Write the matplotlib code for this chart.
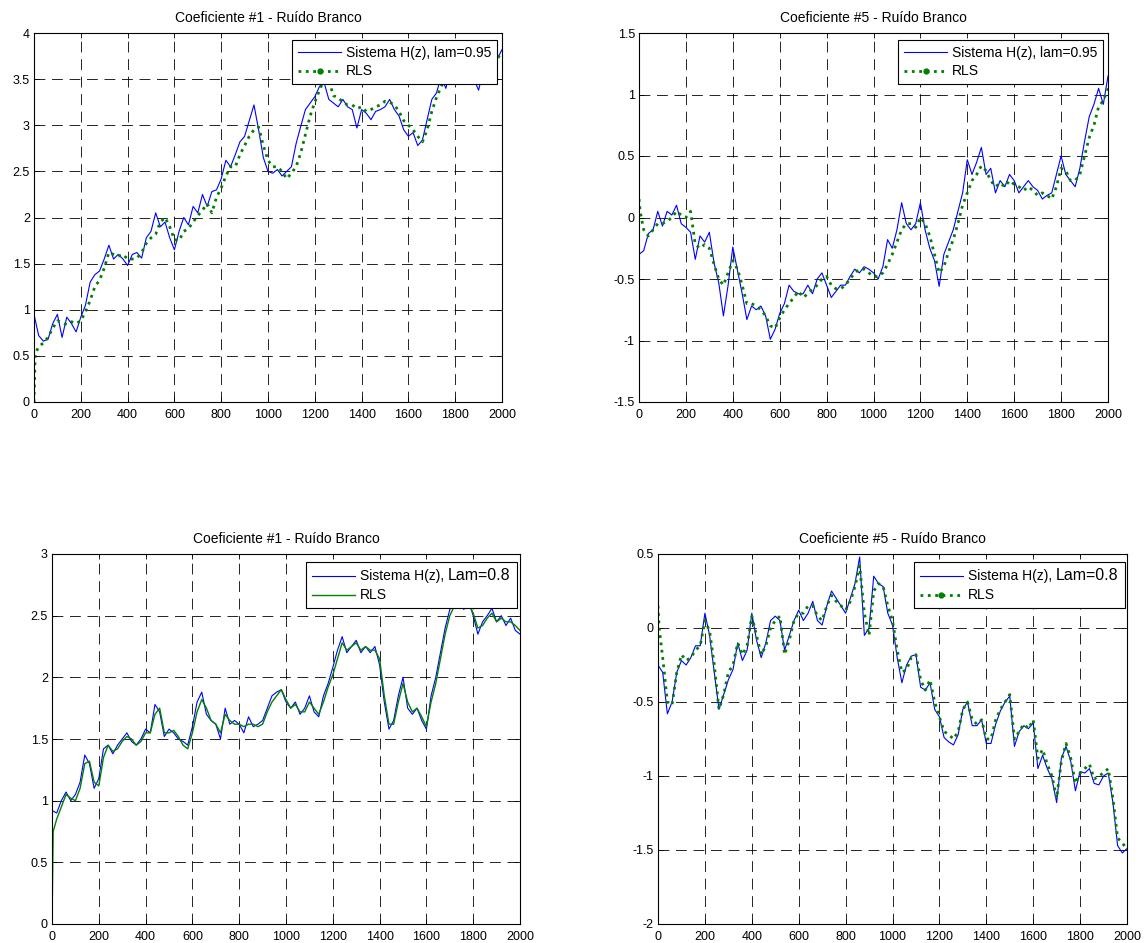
import numpy as np
import matplotlib
matplotlib.use('Agg')
import matplotlib.pyplot as plt
from matplotlib.lines import Line2D
from matplotlib.offsetbox import AnchoredOffsetbox, DrawingArea, HPacker, VPacker, TextArea

plt.rcParams['font.family'] = ['Liberation Sans', 'DejaVu Sans']
plt.rcParams['axes.unicode_minus'] = False

# sample index of each stored value (system every 20 samples, rls also keeps its start-up transient)
n_sys = np.arange(0, 2001, 20)
n_rls = np.concatenate(([0, 5], np.arange(20, 2001, 20)))

# coefficient #1, lam=0.95
c1_sys_095 = [0.95, 0.72, 0.66, 0.68, 0.85, 0.95, 0.70, 0.92, 0.85, 0.76,
              0.92, 1.05, 1.30, 1.38, 1.42, 1.55, 1.70, 1.55, 1.60, 1.55,
              1.48, 1.60, 1.62, 1.56, 1.78, 1.85, 2.05, 1.90, 1.95, 1.78,
              1.65, 1.85, 2.00, 1.92, 2.12, 2.05, 2.25, 2.12, 2.28, 2.30,
              2.42, 2.62, 2.55, 2.68, 2.82, 2.88, 3.05, 3.22, 2.95, 2.65,
              2.50, 2.48, 2.52, 2.45, 2.50, 2.55, 2.80, 2.99, 3.17, 3.24,
              3.31, 3.42, 3.46, 3.28, 3.24, 3.20, 3.28, 3.20, 3.17, 2.97,
              3.17, 3.13, 3.06, 3.15, 3.17, 3.20, 3.28, 3.17, 3.10, 2.95,
              2.88, 2.92, 2.78, 2.84, 3.06, 3.28, 3.35, 3.53, 3.40, 3.60,
              3.62, 3.58, 3.65, 3.60, 3.50, 3.38, 3.60, 3.65, 3.70, 3.72,
              3.82]
c1_rls_095 = [0.00, 0.52,
              0.60, 0.64, 0.70, 0.80, 0.88, 0.86, 0.84, 0.87, 0.85, 0.88,
              0.98, 1.10, 1.25, 1.32, 1.45, 1.62, 1.60, 1.58, 1.60, 1.55,
              1.55, 1.56, 1.62, 1.72, 1.78, 1.82, 1.95, 2.00, 1.90, 1.76,
              1.75, 1.85, 1.88, 1.95, 2.02, 2.08, 2.15, 2.05, 2.22, 2.32,
              2.45, 2.55, 2.55, 2.68, 2.78, 2.88, 2.95, 2.98, 2.78, 2.62,
              2.55, 2.55, 2.50, 2.42, 2.48, 2.55, 2.70, 2.90, 3.10, 3.25,
              3.38, 3.50, 3.48, 3.32, 3.30, 3.25, 3.22, 3.22, 3.18, 3.20,
              3.15, 3.17, 3.20, 3.22, 3.26, 3.25, 3.22, 3.15, 3.05, 3.00,
              2.95, 2.88, 2.82, 2.95, 3.15, 3.30, 3.42, 3.52, 3.55, 3.58,
              3.60, 3.62, 3.60, 3.58, 3.55, 3.55, 3.60, 3.65, 3.72, 3.80]

# coefficient #5, lam=0.95
c5_sys_095 = [-0.30, -0.27, -0.13, -0.10, 0.05, -0.07, 0.05, 0.02, 0.10, -0.05,
              -0.08, -0.12, -0.34, -0.15, -0.20, -0.12, -0.37, -0.53, -0.80, -0.55,
              -0.24, -0.43, -0.62, -0.83, -0.72, -0.75, -0.72, -0.80, -0.99, -0.91,
              -0.78, -0.70, -0.55, -0.60, -0.62, -0.62, -0.55, -0.62, -0.50, -0.45,
              -0.55, -0.65, -0.60, -0.55, -0.55, -0.48, -0.42, -0.45, -0.40, -0.42,
              -0.45, -0.50, -0.40, -0.18, -0.25, -0.10, 0.12, -0.05, -0.10, -0.05,
              0.12, -0.10, -0.25, -0.35, -0.56, -0.30, -0.20, -0.10, 0.05, 0.20,
              0.47, 0.35, 0.45, 0.57, 0.35, 0.40, 0.20, 0.30, 0.25, 0.35,
              0.30, 0.20, 0.25, 0.30, 0.25, 0.22, 0.15, 0.18, 0.20, 0.35,
              0.50, 0.35, 0.30, 0.25, 0.40, 0.62, 0.82, 0.92, 1.05, 0.92,
              1.15]
c5_rls_095 = [0.15, 0.05,
              -0.10, -0.15, -0.10, -0.05, -0.05, -0.03, 0.00, 0.05, 0.02, 0.00,
              0.05, -0.22, -0.25, -0.22, -0.25, -0.38, -0.50, -0.55, -0.45, -0.35,
              -0.42, -0.55, -0.70, -0.70, -0.72, -0.75, -0.80, -0.88, -0.90, -0.82,
              -0.75, -0.70, -0.65, -0.60, -0.65, -0.62, -0.58, -0.55, -0.50, -0.48,
              -0.55, -0.58, -0.58, -0.55, -0.50, -0.45, -0.42, -0.42, -0.45, -0.48,
              -0.48, -0.45, -0.38, -0.30, -0.20, -0.10, -0.05, -0.05, -0.08, 0.00,
              -0.05, -0.15, -0.30, -0.45, -0.40, -0.28, -0.18, -0.05, 0.10, 0.20,
              0.30, 0.35, 0.42, 0.38, 0.30, 0.25, 0.28, 0.25, 0.30, 0.27,
              0.25, 0.22, 0.25, 0.22, 0.18, 0.20, 0.18, 0.15, 0.25, 0.40,
              0.38, 0.30, 0.30, 0.35, 0.50, 0.65, 0.75, 0.90, 0.95, 1.05]

# coefficient #1, lam=0.8
c1_sys_08 = [0.92, 0.90, 1.00, 1.07, 1.00, 1.05, 1.15, 1.37, 1.30, 1.10,
             1.18, 1.42, 1.45, 1.38, 1.45, 1.50, 1.55, 1.48, 1.45, 1.50,
             1.58, 1.55, 1.78, 1.72, 1.52, 1.58, 1.55, 1.50, 1.48, 1.45,
             1.60, 1.80, 1.88, 1.70, 1.65, 1.62, 1.50, 1.75, 1.62, 1.65,
             1.62, 1.55, 1.68, 1.60, 1.62, 1.65, 1.75, 1.85, 1.88, 1.90,
             1.80, 1.75, 1.80, 1.70, 1.75, 1.85, 1.72, 1.68, 1.85, 1.95,
             2.08, 2.22, 2.33, 2.20, 2.25, 2.30, 2.20, 2.25, 2.20, 2.25,
             2.10, 1.80, 1.58, 1.65, 1.85, 2.00, 1.75, 1.70, 1.75, 1.65,
             1.58, 1.85, 2.00, 2.20, 2.40, 2.55, 2.60, 2.62, 2.55, 2.62,
             2.50, 2.35, 2.45, 2.50, 2.56, 2.45, 2.50, 2.42, 2.48, 2.38,
             2.35]
c1_rls_08 = [0.00, 0.75,
             0.85, 0.95, 1.05, 1.02, 1.00, 1.10, 1.30, 1.32, 1.15, 1.12,
             1.35, 1.45, 1.40, 1.42, 1.48, 1.52, 1.50, 1.45, 1.48, 1.55,
             1.55, 1.70, 1.75, 1.55, 1.55, 1.57, 1.52, 1.45, 1.42, 1.55,
             1.72, 1.82, 1.75, 1.65, 1.62, 1.55, 1.70, 1.65, 1.62, 1.62,
             1.60, 1.62, 1.62, 1.60, 1.62, 1.72, 1.80, 1.85, 1.90, 1.82,
             1.75, 1.78, 1.72, 1.72, 1.80, 1.75, 1.70, 1.80, 1.92, 2.02,
             2.15, 2.28, 2.22, 2.25, 2.28, 2.22, 2.25, 2.22, 2.22, 2.15,
             1.85, 1.62, 1.62, 1.80, 1.95, 1.80, 1.72, 1.75, 1.68, 1.60,
             1.80, 1.95, 2.15, 2.35, 2.50, 2.58, 2.60, 2.58, 2.60, 2.52,
             2.40, 2.42, 2.48, 2.52, 2.45, 2.48, 2.45, 2.45, 2.42, 2.38]

# coefficient #5, lam=0.8
c5_sys_08 = [-0.25, -0.30, -0.58, -0.50, -0.30, -0.22, -0.25, -0.20, -0.12, -0.12,
             0.10, -0.05, -0.30, -0.55, -0.45, -0.35, -0.28, -0.10, -0.22, -0.15,
             0.10, -0.08, -0.20, -0.10, 0.05, 0.08, 0.05, -0.15, -0.05, 0.05,
             0.12, 0.05, 0.10, 0.18, 0.05, 0.02, 0.15, 0.25, 0.20, 0.15,
             0.10, 0.20, 0.30, 0.48, -0.05, 0.00, 0.35, 0.30, 0.28, 0.10,
             0.02, -0.20, -0.37, -0.25, -0.19, -0.18, -0.40, -0.42, -0.37, -0.55,
             -0.60, -0.74, -0.77, -0.79, -0.72, -0.55, -0.50, -0.66, -0.66, -0.62,
             -0.78, -0.78, -0.65, -0.56, -0.50, -0.46, -0.80, -0.70, -0.66, -0.68,
             -0.64, -0.95, -0.86, -0.95, -1.02, -1.18, -0.88, -0.80, -0.90, -1.10,
             -0.97, -0.98, -0.95, -1.05, -1.06, -1.00, -0.98, -1.18, -1.47, -1.52,
             -1.49]
c5_rls_08 = [0.15, 0.00,
             -0.20, -0.50, -0.52, -0.30, -0.18, -0.22, -0.20, -0.15, -0.12, 0.05,
             -0.02, -0.25, -0.55, -0.45, -0.30, -0.25, -0.10, -0.18, -0.12, 0.08,
             -0.05, -0.18, -0.12, 0.00, 0.05, 0.08, -0.18, -0.08, 0.05, 0.10,
             0.10, 0.15, 0.15, 0.08, 0.05, 0.15, 0.22, 0.18, 0.15, 0.12,
             0.18, 0.28, 0.42, 0.10, -0.05, 0.25, 0.30, 0.28, 0.15, 0.05,
             -0.15, -0.30, -0.28, -0.20, -0.18, -0.35, -0.42, -0.35, -0.50, -0.60,
             -0.70, -0.72, -0.75, -0.70, -0.55, -0.50, -0.62, -0.65, -0.62, -0.75,
             -0.75, -0.62, -0.55, -0.50, -0.45, -0.75, -0.70, -0.65, -0.68, -0.62,
             -0.88, -0.82, -0.92, -1.00, -1.15, -0.90, -0.78, -0.88, -1.05, -0.98,
             -0.95, -0.92, -1.02, -1.00, -0.98, -0.95, -1.15, -1.42, -1.45, -1.50]

titles = ['Coeficiente #1 - Ruído Branco', 'Coeficiente #5 - Ruído Branco',
          'Coeficiente #1 - Ruído Branco', 'Coeficiente #5 - Ruído Branco']
x_ticks = [0, 200, 400, 600, 800, 1000, 1200, 1400, 1600, 1800, 2000]
y_ticks_c1_095 = ['0', '0.5', '1', '1.5', '2', '2.5', '3', '3.5', '4']
y_ticks_c5_095 = ['-1.5', '-1', '-0.5', '0', '0.5', '1', '1.5']
y_ticks_c1_08 = ['0', '0.5', '1', '1.5', '2', '2.5', '3']
y_ticks_c5_08 = ['-2', '-1.5', '-1', '-0.5', '0', '0.5']

W, H = 1146, 943
BLUE = (0, 0, 1)
GREEN = (0, 0.5, 0)

fig = plt.figure(figsize=(W / 100, H / 100), dpi=100)


def make_axes(x0, y0, x1, y1):
    # pixel box (left, top, right, bottom) -> figure fraction
    return fig.add_axes([x0 / W, (H - y1) / H, (x1 - x0) / W, (y1 - y0) / H])


def style_axes(ax, title, yt):
    yv = [float(s) for s in yt]
    ax.set_xlim(0, 2000)
    ax.set_ylim(yv[0], yv[-1])
    ax.set_xticks(x_ticks)
    ax.set_xticklabels([str(t) for t in x_ticks])
    ax.set_yticks(yv)
    ax.set_yticklabels(yt)
    ax.tick_params(direction='in', length=3.5, width=0.6, top=True, right=True,
                   labelsize=9)
    ax.tick_params(axis='x', pad=5)
    ax.tick_params(axis='y', pad=3)
    ax.grid(True, color='k', linewidth=0.6, linestyle=(0, (13, 8)))
    for s in ax.spines.values():
        s.set_linewidth(0.8)
    ax.set_title(title, fontsize=10, pad=8)


def add_legend(ax, lab, anchor):
    h_sys = Line2D([], [], color=BLUE, lw=0.8)
    h_rls = Line2D([], [], color=GREEN, lw=2.0, linestyle=':', marker='.', markersize=7)
    leg = ax.legend([h_sys, h_rls], [lab, 'RLS'], loc='upper right', bbox_to_anchor=anchor,
                    borderaxespad=0, fontsize=10, numpoints=1, handlelength=3.1,
                    handletextpad=0.35, labelspacing=0.35, borderpad=0.4,
                    fancybox=False, framealpha=1, edgecolor='k')
    leg.get_frame().set_linewidth(0.8)


def handle_box(style):
    # little line sample for the hand built legend, 31 x 10 pt
    da = DrawingArea(31, 10, 0, 0)
    if style == 'sys':
        da.add_artist(Line2D([0, 31], [5, 5], color=BLUE, lw=0.8))
    elif style == 'solid':
        da.add_artist(Line2D([0, 31], [5, 5], color=GREEN, lw=1.0))
    else:
        da.add_artist(Line2D([0, 31], [5, 5], color=GREEN, lw=2.0, linestyle=':'))
        da.add_artist(Line2D([15.5], [5], color=GREEN, marker='.', markersize=7))
    return da


def add_legend_lam(ax, lam_txt, rls_style, anchor):
    # legend whose first label ends with a bigger "Lam=..." text
    lab = HPacker(children=[TextArea('Sistema H(z),', textprops=dict(size=10)),
                            TextArea(lam_txt, textprops=dict(size=11.5))],
                  align='baseline', pad=0, sep=3)
    row1 = HPacker(children=[handle_box('sys'), lab], align='center', pad=0, sep=3.5)
    row2 = HPacker(children=[handle_box(rls_style), TextArea('RLS', textprops=dict(size=10))],
                   align='center', pad=0, sep=3.5)
    box = VPacker(children=[row1, row2], align='left', pad=0, sep=3)
    ab = AnchoredOffsetbox(loc='upper right', child=box, pad=0.45, borderpad=0,
                           frameon=True, bbox_to_anchor=anchor, bbox_transform=ax.transAxes)
    ab.patch.set_boxstyle('square', pad=0)
    ab.patch.set_edgecolor('k')
    ab.patch.set_linewidth(0.8)
    ab.set_zorder(5)
    ax.add_artist(ab)


# top left
ax1 = make_axes(34, 33, 502, 402)
ax1.plot(n_sys, c1_sys_095, color=BLUE, lw=0.8)
ax1.plot(n_rls, c1_rls_095, color=GREEN, lw=2.0, linestyle=':')
style_axes(ax1, titles[0], y_ticks_c1_095)
add_legend(ax1, 'Sistema H(z), lam=0.95', (0.989, 0.981))

# top right
ax2 = make_axes(639, 33, 1108, 402)
ax2.plot(n_sys, c5_sys_095, color=BLUE, lw=0.8)
ax2.plot(n_rls, c5_rls_095, color=GREEN, lw=2.0, linestyle=':')
style_axes(ax2, titles[1], y_ticks_c5_095)
add_legend(ax2, 'Sistema H(z), lam=0.95', (0.989, 0.981))

# bottom left
ax3 = make_axes(52, 554, 520, 924)
ax3.plot(n_sys, c1_sys_08, color=BLUE, lw=0.8)
ax3.plot(n_rls, c1_rls_08, color=GREEN, lw=1.0)
style_axes(ax3, titles[2], y_ticks_c1_08)
add_legend_lam(ax3, 'Lam=0.8', 'solid', (0.9936, 0.978))

# bottom right
ax4 = make_axes(658, 554, 1127, 924)
ax4.plot(n_sys, c5_sys_08, color=BLUE, lw=0.8)
ax4.plot(n_rls, c5_rls_08, color=GREEN, lw=2.0, linestyle=':')
style_axes(ax4, titles[3], y_ticks_c5_08)
add_legend_lam(ax4, 'Lam=0.8', 'dots', (0.9957, 0.978))

fig.savefig('out.png', dpi=100)
